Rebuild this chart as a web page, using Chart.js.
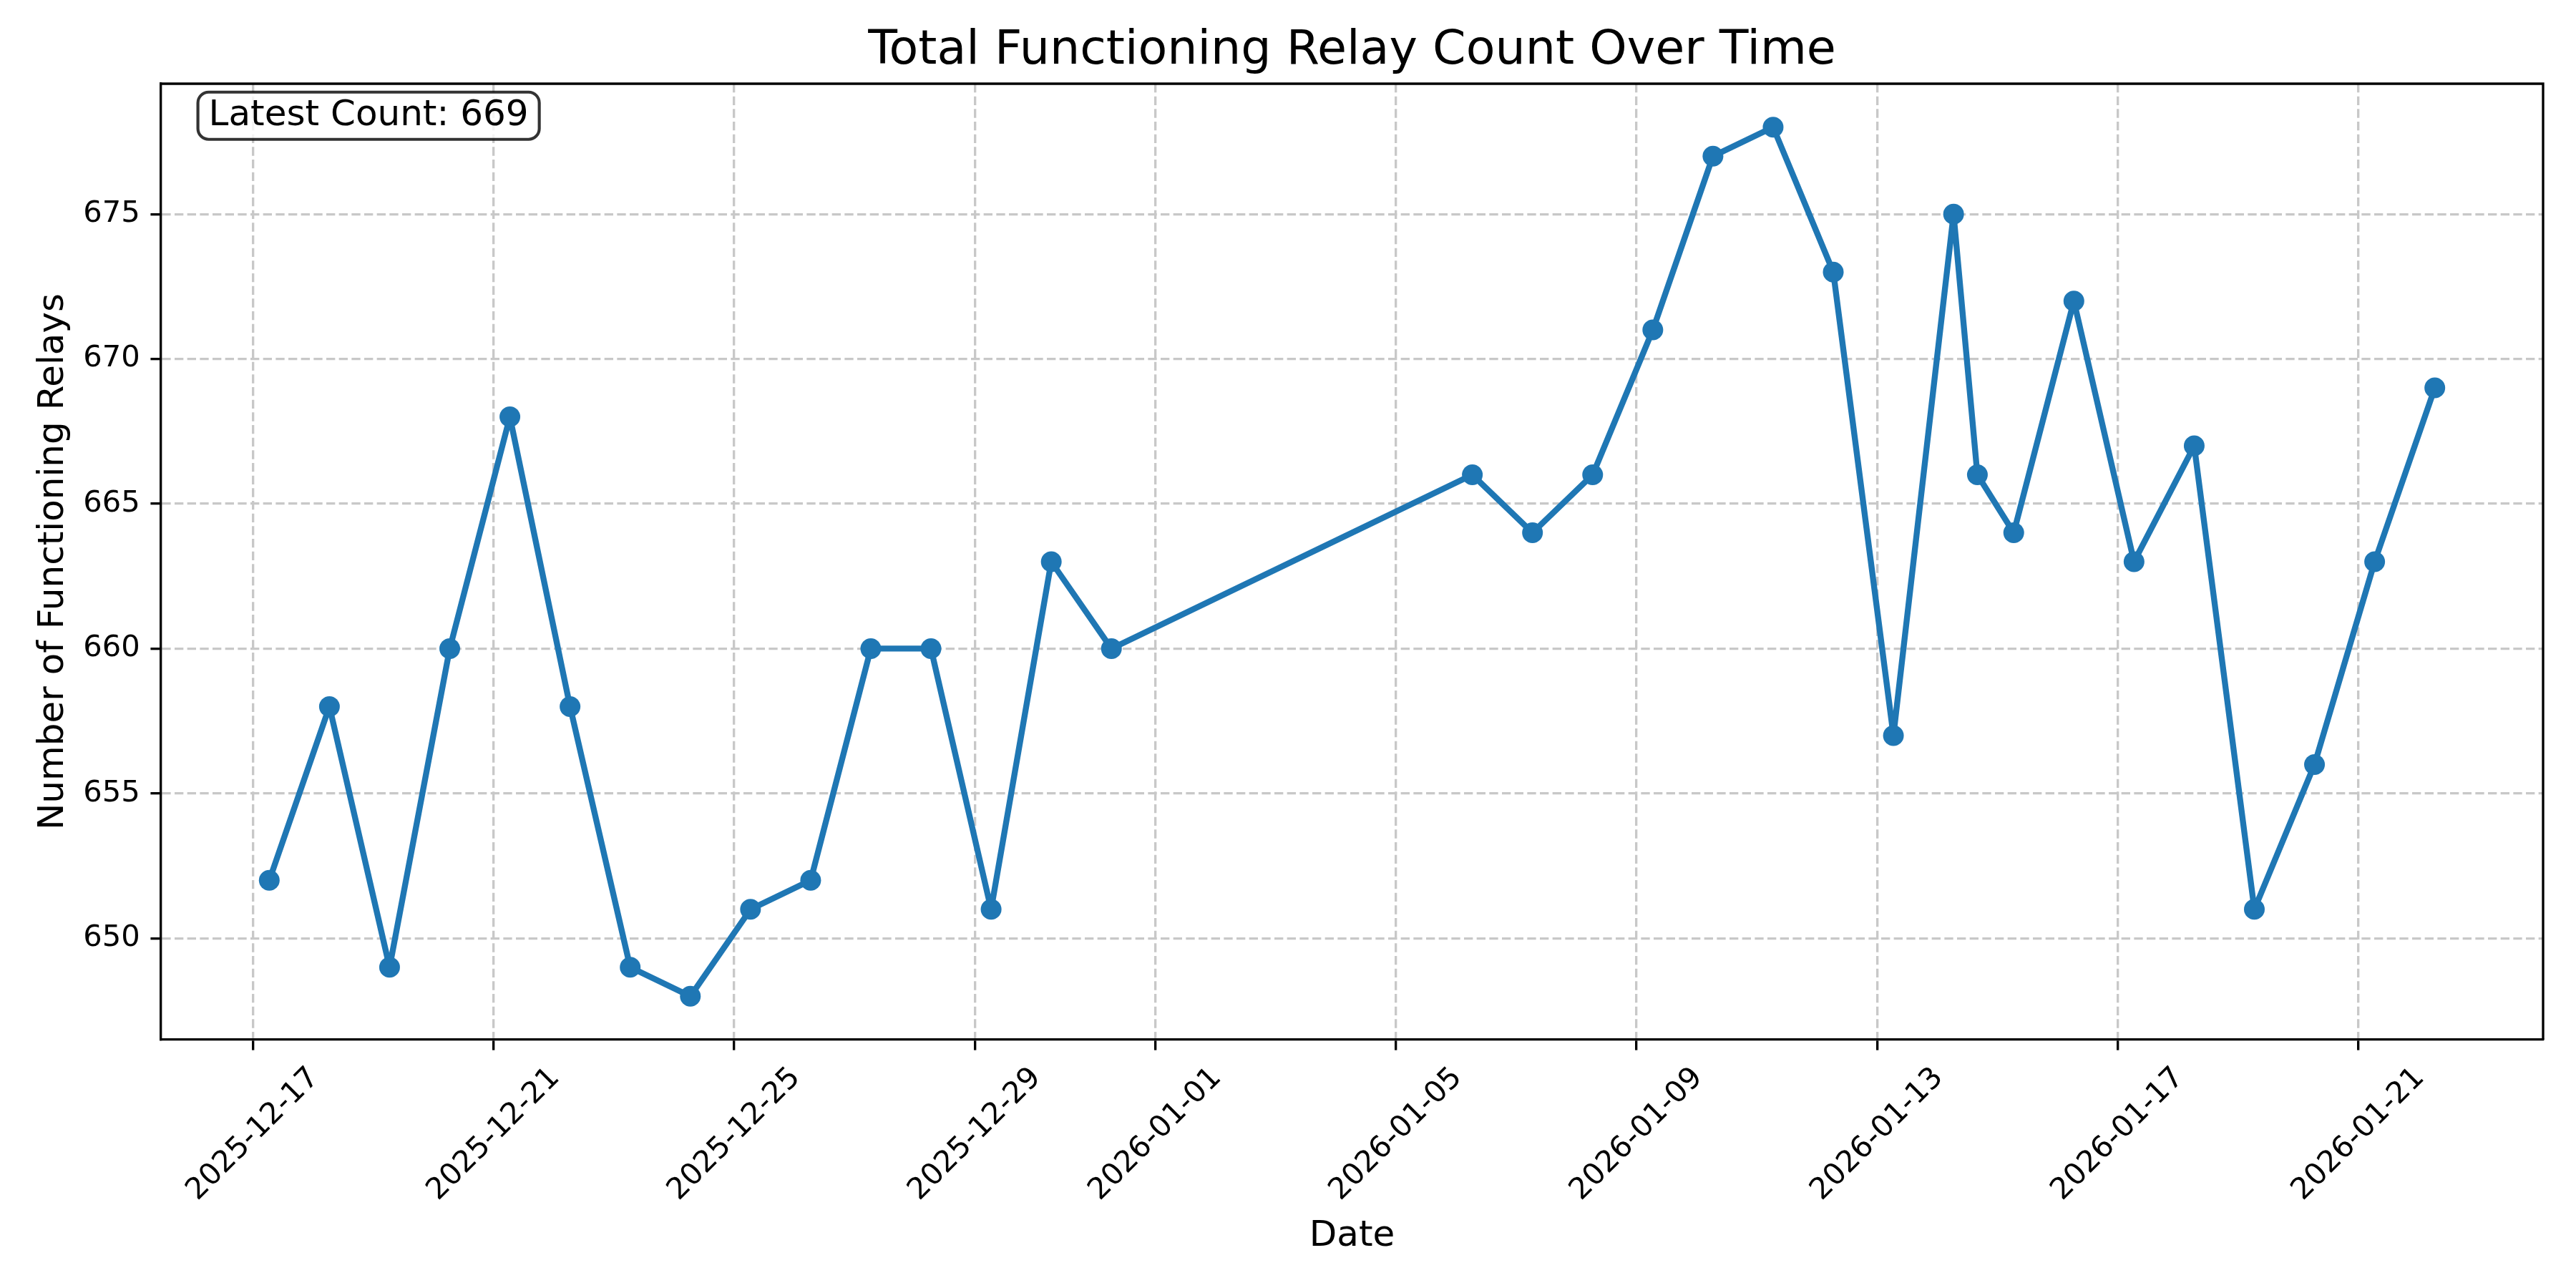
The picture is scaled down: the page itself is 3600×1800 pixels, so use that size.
<!DOCTYPE html>
<html>
<head>
<meta charset="utf-8">
<title>Total Functioning Relay Count Over Time</title>
<script src="https://cdn.jsdelivr.net/npm/chart.js@4.4.1/dist/chart.umd.min.js"></script>
<style>
  html, body { margin: 0; padding: 0; background: #fff; }
  canvas { display: block; }
</style>
</head>
<body>
<canvas id="relayChart" width="3600" height="1800"></canvas>
<script>
// Snapshots (one per day, roughly 06:30 UTC)
const timestamps = [
  '2025-12-17T06:30', '2025-12-18T06:30', '2025-12-19T06:30', '2025-12-20T06:30',
  '2025-12-21T06:30', '2025-12-22T06:30', '2025-12-23T06:30', '2025-12-24T06:30',
  '2025-12-25T06:30', '2025-12-26T06:30', '2025-12-27T06:30', '2025-12-28T06:30',
  '2025-12-29T06:30', '2025-12-30T06:30', '2025-12-31T06:30',
  '2026-01-06T06:30', '2026-01-07T06:30', '2026-01-08T06:30', '2026-01-09T06:30',
  '2026-01-10T06:30', '2026-01-11T06:30', '2026-01-12T06:30', '2026-01-13T06:30',
  '2026-01-14T06:30', '2026-01-14T16:00', '2026-01-15T06:30', '2026-01-16T06:30',
  '2026-01-17T06:30', '2026-01-18T06:30', '2026-01-19T06:30', '2026-01-20T06:30',
  '2026-01-21T06:30', '2026-01-22T06:30'
];
const relayCounts = [
  652, 658, 649, 660, 668, 658, 649, 648, 651, 652, 660, 660, 651, 663, 660,
  666, 664, 666, 671, 677, 678, 673, 657, 675, 666, 664, 672, 663, 667, 651, 656, 663, 669
];
const xTickDates = [
  '2025-12-17', '2025-12-21', '2025-12-25', '2025-12-29', '2026-01-01',
  '2026-01-05', '2026-01-09', '2026-01-13', '2026-01-17', '2026-01-21'
];
const yTicks = [650, 655, 660, 665, 670, 675];

const DAY = 86400000;
const toDays = s => Date.parse(s.length === 10 ? s + 'T00:00Z' : s + 'Z') / DAY;
const fmtDay = d => new Date(Math.round(d * DAY)).toISOString().slice(0, 10);

const xs = timestamps.map(toDays);
const points = xs.map((x, i) => ({ x: x, y: relayCounts[i] }));

// matplotlib-style 5% margins
const xSpan = xs[xs.length - 1] - xs[0];
const yMinData = Math.min(...relayCounts), yMaxData = Math.max(...relayCounts);
const ySpan = yMaxData - yMinData;

const PT = 300 / 72;
const FONT = "'DejaVu Sans', 'Liberation Sans', sans-serif";
const gridColor = '#c8c8c8';
const gridDash = [3.7 * 0.8 * PT, 1.6 * 0.8 * PT];

const frameAndNote = {
  id: 'frameAndNote',
  afterDatasetsDraw(chart) {
    const { ctx, chartArea: ca } = chart;
    ctx.save();
    // top and right spines
    ctx.strokeStyle = '#000';
    ctx.lineWidth = 0.8 * PT;
    ctx.beginPath();
    ctx.moveTo(ca.left, ca.top);
    ctx.lineTo(ca.right, ca.top);
    ctx.lineTo(ca.right, ca.bottom);
    ctx.stroke();

    // latest count annotation
    const label = 'Latest Count: ' + relayCounts[relayCounts.length - 1];
    ctx.font = `${12 * PT}px ${FONT}`;
    const tw = ctx.measureText(label).width;
    const tx = ca.left + 0.02 * (ca.right - ca.left);
    const ty = ca.top + 0.02 * (ca.bottom - ca.top);
    const pad = 0.3 * 12 * PT;
    ctx.beginPath();
    ctx.roundRect(tx - pad, ty - pad, tw + 2 * pad, 66, pad);
    ctx.fillStyle = 'rgba(255,255,255,0.8)';
    ctx.fill();
    ctx.strokeStyle = 'rgba(0,0,0,0.8)';
    ctx.lineWidth = 1 * PT;
    ctx.stroke();
    ctx.fillStyle = '#000';
    ctx.textBaseline = 'alphabetic';
    ctx.textAlign = 'left';
    ctx.fillText(label, tx, ty + 31);
    ctx.restore();
  }
};

new Chart(document.getElementById('relayChart'), {
  type: 'line',
  data: {
    datasets: [{
      label: 'Functioning Relays',
      data: points,
      borderColor: '#1f77b4',
      backgroundColor: '#1f77b4',
      borderWidth: 2 * PT,
      borderJoinStyle: 'round',
      borderCapStyle: 'round',
      pointRadius: 14.5,
      pointHoverRadius: 14.5,
      pointBorderWidth: 0,
      pointBackgroundColor: '#1f77b4',
      tension: 0,
      fill: false
    }]
  },
  options: {
    responsive: false,
    animation: false,
    layout: { padding: { left: 0, right: 46, top: 0, bottom: 0 } },
    plugins: {
      legend: { display: false },
      tooltip: { enabled: false },
      title: {
        display: true,
        fullSize: false,
        text: 'Total Functioning Relay Count Over Time',
        color: '#000',
        font: { family: FONT, size: 16 * PT, weight: 'normal' },
        padding: { top: 32, bottom: 5 }
      }
    },
    scales: {
      x: {
        type: 'linear',
        min: xs[0] - 0.05 * xSpan,
        max: xs[xs.length - 1] + 0.05 * xSpan,
        afterBuildTicks: s => { s.ticks = xTickDates.map(d => ({ value: toDays(d) })); },
        afterFit: s => { s.height = 1800 - 1453; s.paddingLeft = 0; s.paddingRight = 0; },
        grid: {
          color: gridColor,
          lineWidth: 0.8 * PT,
          tickColor: '#000',
          tickWidth: 0.8 * PT,
          tickLength: 3.5 * PT
        },
        border: { color: '#000', width: 0.8 * PT, dash: gridDash },
        ticks: {
          autoSkip: false,
          minRotation: 45,
          maxRotation: 45,
          labelOffset: 86,
          padding: 3.5 * PT,
          color: '#000',
          font: { family: FONT, size: 10 * PT },
          callback: v => fmtDay(v)
        },
        title: {
          display: true,
          text: 'Date',
          color: '#000',
          font: { family: FONT, size: 12 * PT },
          padding: { top: 0, bottom: 42 }
        }
      },
      y: {
        type: 'linear',
        min: yMinData - 0.05 * ySpan,
        max: yMaxData + 0.05 * ySpan,
        afterBuildTicks: s => { s.ticks = yTicks.map(v => ({ value: v })); },
        afterFit: s => { s.width = 225; },
        grid: {
          color: gridColor,
          lineWidth: 0.8 * PT,
          tickColor: '#000',
          tickWidth: 0.8 * PT,
          tickLength: 3.5 * PT
        },
        border: { color: '#000', width: 0.8 * PT, dash: gridDash },
        ticks: {
          padding: 3.5 * PT,
          color: '#000',
          font: { family: FONT, size: 10 * PT },
          callback: v => String(v)
        },
        title: {
          display: true,
          text: 'Number of Functioning Relays',
          color: '#000',
          font: { family: FONT, size: 12 * PT },
          padding: { top: 45, bottom: 0 }
        }
      }
    }
  },
  plugins: [frameAndNote]
});
</script>
</body>
</html>
